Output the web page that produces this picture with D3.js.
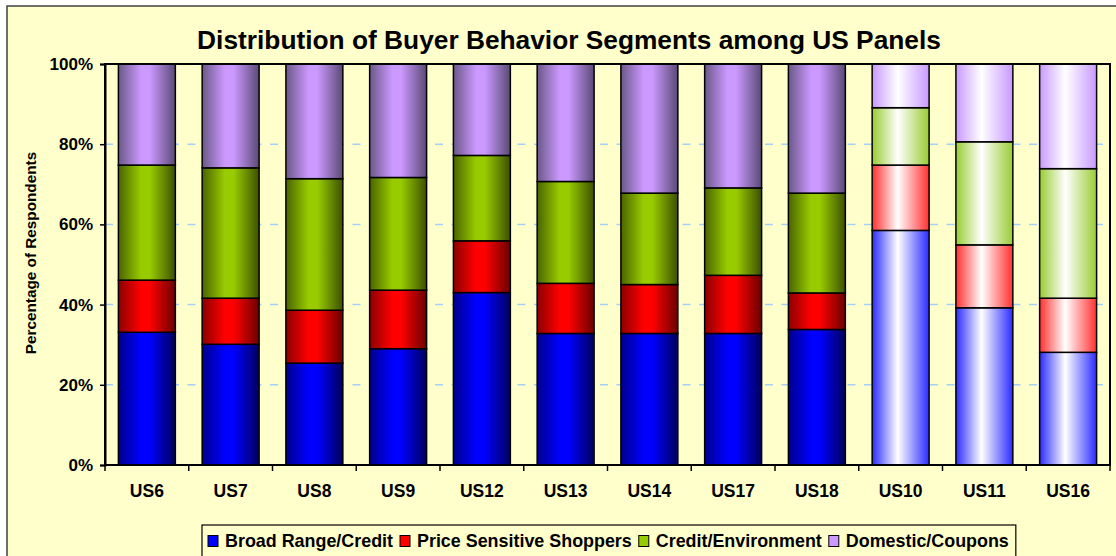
<!DOCTYPE html>
<html lang="en">
<head>
    <meta charset="UTF-8">
    <title>Distribution of Buyer Behavior Segments among US Panels</title>
    <script src="https://d3js.org/d3.v7.min.js"></script>
    <style>
        body, html {
            margin: 0;
            padding: 0;
            background-color: #ffffff;
            overflow: hidden;
        }
        svg {
            display: block;
            font-family: 'Liberation Sans', Arial, sans-serif;
            font-weight: bold;
        }
    </style>
</head>
<body>
    <svg width="1116" height="556"></svg>

    <script>
        // panels along the x axis
        const panels = ['US6', 'US7', 'US8', 'US9', 'US12', 'US13', 'US14', 'US17', 'US18', 'US10', 'US11', 'US16'];

        // percentage of respondents per segment
        const broadRange = [33.1, 30.1, 25.4, 29.0, 43.0, 32.8, 32.8, 32.8, 33.8, 58.5, 39.2, 28.1];
        const priceSensitive = [13.0, 11.5, 13.2, 14.6, 12.9, 12.5, 12.2, 14.5, 9.1, 16.3, 15.7, 13.5];
        const creditEnv = [28.7, 32.5, 32.8, 28.1, 21.3, 25.4, 22.8, 21.8, 24.9, 14.3, 25.7, 32.3];
        const domestic = [25.2, 25.9, 28.6, 28.3, 22.8, 29.3, 32.2, 30.9, 32.2, 10.9, 19.4, 26.1];

        const segmentNames = ['Broad Range/Credit', 'Price Sensitive Shoppers', 'Credit/Environment', 'Domestic/Coupons'];
        const yTicks = [0, 20, 40, 60, 80, 100];

        const svg = d3.select('svg');
        const width = 1116, height = 556;
        const margin = { top: 64, right: 6, bottom: 91, left: 105 };

        // colours: solid (dark edge, bright middle, dark edge) and pale (colour to white)
        const solid = [
            ['#00008c', '#0000ff', '#00005c'],
            ['#8c0000', '#ff0000', '#6a0000'],
            ['#4a6400', '#99cc00', '#3c5000'],
            ['#6a5888', '#cc99ff', '#5a4a76']
        ];
        const pale = ['#2b2bff', '#ff3030', '#99cc33', '#c899ff'];
        const flat = ['#0000ff', '#ff0000', '#99cc00', '#cc99ff'];
        const paleFrom = 9; // last three panels are drawn pale

        const table = panels.map((p, i) => ({
            panel: p, idx: i,
            b: broadRange[i], p: priceSensitive[i], c: creditEnv[i], d: domestic[i]
        }));
        const keys = ['b', 'p', 'c', 'd'];
        const stacked = d3.stack().keys(keys)(table);

        const defs = svg.append('defs');
        solid.forEach((c, i) => {
            const g = defs.append('linearGradient').attr('id', 'solid' + i)
                .attr('x1', '0%').attr('x2', '100%').attr('y1', '0%').attr('y2', '0%');
            g.append('stop').attr('offset', '0%').attr('stop-color', c[0]);
            g.append('stop').attr('offset', '40%').attr('stop-color', c[1]);
            g.append('stop').attr('offset', '55%').attr('stop-color', c[1]);
            g.append('stop').attr('offset', '100%').attr('stop-color', c[2]);
        });
        pale.forEach((c, i) => {
            const g = defs.append('linearGradient').attr('id', 'pale' + i)
                .attr('x1', '0%').attr('x2', '100%').attr('y1', '0%').attr('y2', '0%');
            g.append('stop').attr('offset', '0%').attr('stop-color', c);
            g.append('stop').attr('offset', '45%').attr('stop-color', '#ffffff');
            g.append('stop').attr('offset', '100%').attr('stop-color', c);
        });

        // chart area
        svg.append('rect')
            .attr('x', 7).attr('y', 6)
            .attr('width', width + 10).attr('height', height + 10)
            .attr('fill', '#ffffcc')
            .attr('stroke', '#404040')
            .attr('stroke-width', 1.5);

        const x = d3.scaleBand()
            .domain(panels)
            .range([margin.left, width - margin.right])
            .paddingInner(0.32)
            .paddingOuter(0.16);

        const y = d3.scaleLinear()
            .domain([0, 100])
            .range([height - margin.bottom, margin.top]);

        // gridlines
        svg.append('g')
            .selectAll('line')
            .data(yTicks.filter(t => t > 0 && t < 100))
            .join('line')
            .attr('x1', margin.left).attr('x2', width - margin.right)
            .attr('y1', d => y(d)).attr('y2', d => y(d))
            .attr('stroke', '#a6cff5')
            .attr('stroke-width', 1.5)
            .attr('stroke-dasharray', '8,8.5');

        // bars
        svg.append('g')
            .selectAll('g')
            .data(stacked)
            .join('g')
            .each(function(series, si) {
                d3.select(this).selectAll('rect')
                    .data(series)
                    .join('rect')
                    .attr('x', d => x(d.data.panel))
                    .attr('width', x.bandwidth())
                    .attr('y', d => y(d[1]))
                    .attr('height', d => y(d[0]) - y(d[1]))
                    .attr('fill', d => d.data.idx >= paleFrom ? 'url(#pale' + si + ')' : 'url(#solid' + si + ')')
                    .attr('stroke', '#000')
                    .attr('stroke-width', 1.5);
            });

        // plot frame
        svg.append('rect')
            .attr('x', margin.left).attr('y', margin.top)
            .attr('width', width - margin.right - margin.left)
            .attr('height', height - margin.bottom - margin.top)
            .attr('fill', 'none')
            .attr('stroke', '#000')
            .attr('stroke-width', 2);

        // y axis
        const yAxis = svg.append('g')
            .attr('transform', `translate(${margin.left},0)`)
            .call(d3.axisLeft(y).tickValues(yTicks).tickFormat(d => d + '%').tickSize(5).tickPadding(7));
        yAxis.select('.domain').attr('stroke', '#000').attr('stroke-width', 2);
        yAxis.selectAll('.tick line').attr('stroke', '#000').attr('stroke-width', 1.5);
        yAxis.selectAll('.tick text')
            .attr('font-family', "'Liberation Sans', Arial, sans-serif")
            .attr('font-weight', 'bold')
            .attr('font-size', 17)
            .attr('fill', '#000');

        // x axis: ticks between categories
        const xg = svg.append('g');
        const step = x.step();
        xg.selectAll('line')
            .data(d3.range(panels.length + 1))
            .join('line')
            .attr('x1', i => margin.left + i * step)
            .attr('x2', i => margin.left + i * step)
            .attr('y1', y(0)).attr('y2', y(0) + 6)
            .attr('stroke', '#000')
            .attr('stroke-width', 1.5);
        xg.selectAll('text')
            .data(panels)
            .join('text')
            .attr('x', d => x(d) + x.bandwidth() / 2)
            .attr('y', y(0) + 32)
            .attr('text-anchor', 'middle')
            .attr('font-size', 17.5)
            .attr('fill', '#000')
            .text(d => d);

        // title
        svg.append('text')
            .attr('x', 569)
            .attr('y', 49)
            .attr('text-anchor', 'middle')
            .attr('font-size', 26.3)
            .attr('fill', '#000')
            .text('Distribution of Buyer Behavior Segments among US Panels');

        // y axis title
        svg.append('text')
            .attr('transform', 'translate(36,253) rotate(-90)')
            .attr('text-anchor', 'middle')
            .attr('font-size', 15.3)
            .attr('fill', '#000')
            .text('Percentage of Respondents');

        // legend
        const legend = svg.append('g');
        const legendBox = legend.append('rect')
            .attr('x', 202).attr('y', 525)
            .attr('height', 60)
            .attr('fill', '#ffffcc')
            .attr('stroke', '#000')
            .attr('stroke-width', 1.2);
        let lx = 208;
        segmentNames.forEach((name, i) => {
            legend.append('rect')
                .attr('x', lx).attr('y', 535.5)
                .attr('width', 10).attr('height', 11)
                .attr('fill', flat[i])
                .attr('stroke', '#000')
                .attr('stroke-width', 1);
            const t = legend.append('text')
                .attr('x', lx + 17)
                .attr('y', 546.5)
                .attr('font-size', 17.9)
                .attr('fill', '#000')
                .text(name);
            lx += 17 + t.node().getComputedTextLength() + 7;
        });
        legendBox.attr('width', lx - 202);
    </script>
</body>
</html>
